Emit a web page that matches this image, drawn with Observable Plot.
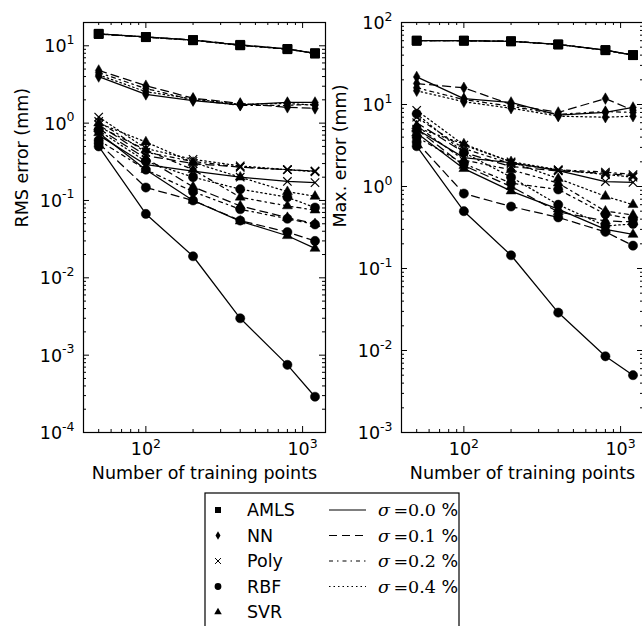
<!DOCTYPE html>
<html><head><meta charset="utf-8">
<script src="https://cdn.jsdelivr.net/npm/d3@7"></script>
<script src="https://cdn.jsdelivr.net/npm/@observablehq/plot@0.6"></script>
<style>
html,body{margin:0;padding:0;background:#fff;overflow:hidden;}
#root{position:relative;width:642px;height:626px;overflow:hidden;font-family:"DejaVu Sans";background:#fff;}
#root > svg{position:absolute;top:0;overflow:visible;}
</style></head><body><div id="root"></div>
<script>
// ---------- data ----------
const trainingPoints = [50, 100, 200, 400, 800, 1200];
const methods = ["AMLS", "NN", "Poly", "RBF", "SVR"];
const noiseLevels = ["0.0", "0.1", "0.2", "0.4"];

// RMS error (mm): one row per noise level (σ = 0.0, 0.1, 0.2, 0.4 %)
const rmsAMLS = [[14.3, 13.0, 11.8, 10.2, 9.1, 8.0], [14.2, 13.0, 11.9, 10.3, 9.1, 8.0], [14.3, 12.9, 11.8, 10.2, 9.0, 8.0], [14.2, 13.0, 11.8, 10.1, 9.1, 7.9]];
const rmsNN   = [[4.0, 2.35, 1.95, 1.72, 1.85, 1.85], [4.8, 3.05, 2.1, 1.8, 1.6, 1.55], [4.5, 2.8, 2.0, 1.7, 1.7, 1.75], [4.2, 2.55, 2.05, 1.75, 1.8, 1.7]];
const rmsPoly = [[0.7, 0.29, 0.24, 0.2, 0.176, 0.17], [0.95, 0.38, 0.3, 0.27, 0.25, 0.24], [1.05, 0.42, 0.32, 0.27, 0.25, 0.24], [1.2, 0.47, 0.34, 0.28, 0.25, 0.235]];
const rmsRBF  = [[0.5, 0.067, 0.019, 0.003, 0.00075, 0.00029], [0.55, 0.147, 0.1, 0.055, 0.039, 0.03], [0.6, 0.25, 0.13, 0.077, 0.058, 0.049], [0.8, 0.32, 0.2, 0.14, 0.11, 0.081]];
const rmsSVR  = [[0.75, 0.25, 0.1, 0.054, 0.035, 0.024], [0.85, 0.35, 0.15, 0.085, 0.06, 0.05], [0.9, 0.45, 0.25, 0.11, 0.085, 0.075], [1.0, 0.57, 0.31, 0.2, 0.13, 0.113]];

// Max. error (mm)
const maxAMLS = [[60, 60, 59, 54, 46, 40], [60, 60, 59, 54, 46, 40], [60, 60, 59, 54, 46, 40], [60, 60, 59, 54, 46, 40]];
const maxNN   = [[21.7, 11.8, 10.6, 7.4, 8.0, 9.2], [18, 16, 10, 8, 11.8, 8.5], [16, 11.5, 9.5, 7.6, 8.2, 8.0], [14.7, 10.8, 9.0, 7.2, 7.0, 7.2]];
const maxPoly = [[5.0, 2.25, 1.95, 1.56, 1.15, 1.12], [6.0, 2.6, 1.75, 1.55, 1.45, 1.35], [7.0, 2.9, 1.9, 1.6, 1.5, 1.4], [8.5, 3.2, 2.0, 1.6, 1.4, 1.3]];
const maxRBF  = [[3.1, 0.5, 0.145, 0.029, 0.0085, 0.005], [3.5, 0.82, 0.57, 0.42, 0.28, 0.19], [4.0, 1.9, 1.1, 0.92, 0.46, 0.4], [7.7, 2.6, 1.3, 0.6, 0.33, 0.35]];
const maxSVR  = [[4.5, 1.65, 0.88, 0.53, 0.3, 0.26], [5.0, 1.8, 1.0, 0.49, 0.38, 0.37], [5.5, 2.1, 1.6, 1.1, 0.5, 0.45], [5.2, 3.3, 2.0, 1.25, 0.76, 0.6]];

const rmsTicksY = [1e-4, 1e-3, 1e-2, 1e-1, 1e0, 1e1];
const maxTicksY = [1e-3, 1e-2, 1e-1, 1e0, 1e1, 1e2];
const ticksX = [1e2, 1e3];
const rmsLabel = "RMS error (mm)";
const maxLabel = "Max. error (mm)";
const xLabel = "Number of training points";

// ---------- helpers ----------
const symbols = {AMLS: "square", NN: "diamond", Poly: "times", RBF: "circle", SVR: "triangle"};
const radius  = {AMLS: 5, NN: 3.5, Poly: 3.9, RBF: 4.6, SVR: 3.7};
const dashes  = [null, "8,5", "4,4,1.5,4", "1.5,3"];
const legendSymbols = {AMLS: d3.symbolSquare, NN: d3.symbolDiamond, Poly: d3.symbolTimes, RBF: d3.symbolCircle, SVR: d3.symbolTriangle};

function tidy(seriesByMethod) {
  const out = [];
  methods.forEach((m, i) => seriesByMethod[i].forEach((vals, j) => vals.forEach((v, k) =>
    out.push({method: m, noise: noiseLevels[j], n: trainingPoints[k], value: v}))));
  return out;
}
const ctx = document.createElement("canvas").getContext("2d");
function tw(s, size) { ctx.font = `${size}px "DejaVu Sans"`; return ctx.measureText(s).width; }
const FS = 17.5, ES = 12.5;
const expText = t => String(Math.round(Math.log10(t)));

function minors(domain) {
  const out = [];
  for (let k = Math.floor(Math.log10(domain[0])); k <= Math.ceil(Math.log10(domain[1])); k++)
    for (let m = 2; m <= 9; m++) { const v = m * 10 ** k; if (v > domain[0] && v < domain[1]) out.push(v); }
  return out;
}

function panel({data, yDomain, yMajors, ylabel, marginLeft, marginRight, left}) {
  const W = 330, H = 492, mt = 22, mb = 60;
  const iw = W - marginLeft - marginRight, ih = H - mt - mb;
  const xDomain = [40, 1400];
  const marks = [];
  // lines
  noiseLevels.forEach((nl, j) => marks.push(Plot.line(data.filter(d => d.noise === nl),
    {x: "n", y: "value", z: "method", stroke: "black", strokeWidth: 1.25, strokeDasharray: dashes[j]})));
  // markers
  methods.forEach(m => {
    const sub = data.filter(d => d.method === m);
    if (m === "Poly") marks.push(Plot.dot(sub, {x: "n", y: "value", symbol: symbols[m], r: radius[m], stroke: "black", strokeWidth: 1.2, fill: "none"}));
    else marks.push(Plot.dot(sub, {x: "n", y: "value", symbol: symbols[m], r: radius[m], fill: "black", stroke: "black", strokeWidth: 0.5}));
  });
  // frame and inward ticks
  const yMin = minors(yDomain), xMin = minors(xDomain);
  marks.push(
    Plot.tickY(yMajors, {y: d => d, insetRight: iw - 6, stroke: "black"}),
    Plot.tickY(yMajors, {y: d => d, insetLeft: iw - 6, stroke: "black"}),
    Plot.tickY(yMin, {y: d => d, insetRight: iw - 3, stroke: "black"}),
    Plot.tickY(yMin, {y: d => d, insetLeft: iw - 3, stroke: "black"}),
    Plot.tickX(ticksX, {x: d => d, insetTop: ih - 6, stroke: "black"}),
    Plot.tickX(ticksX, {x: d => d, insetBottom: ih - 6, stroke: "black"}),
    Plot.tickX(xMin, {x: d => d, insetTop: ih - 3, stroke: "black"}),
    Plot.tickX(xMin, {x: d => d, insetBottom: ih - 3, stroke: "black"}),
    Plot.frame({stroke: "black", strokeWidth: 1.2})
  );
  // y tick labels 10^k
  yMajors.forEach(t => {
    const e = expText(t), ew = tw(e, ES);
    marks.push(Plot.text([t], {y: d => d, frameAnchor: "left", lineAnchor: "middle", text: () => "10", textAnchor: "end", dx: -9 - ew, dy: 1, fontSize: FS}));
    marks.push(Plot.text([t], {y: d => d, frameAnchor: "left", lineAnchor: "middle", text: () => e, textAnchor: "end", dx: -9, dy: -6, fontSize: ES}));
  });
  // x tick labels
  ticksX.forEach(t => {
    const e = expText(t), bw = tw("10", FS), ew = tw(e, ES), Wt = bw + ew;
    marks.push(Plot.text([t], {x: d => d, frameAnchor: "bottom", lineAnchor: "middle", text: () => "10", textAnchor: "start", dx: -Wt / 2, dy: 17, fontSize: FS}));
    marks.push(Plot.text([t], {x: d => d, frameAnchor: "bottom", lineAnchor: "middle", text: () => e, textAnchor: "start", dx: -Wt / 2 + bw, dy: 11, fontSize: ES}));
  });
  // axis titles
  marks.push(Plot.text([ylabel], {text: d => d, frameAnchor: "left", lineAnchor: "middle", rotate: -90, dx: -61, fontSize: FS}));
  marks.push(Plot.text([xLabel], {text: d => d, frameAnchor: "bottom", lineAnchor: "middle", dy: 41, fontSize: FS}));

  const svg = Plot.plot({
    width: W, height: H, marginLeft, marginRight, marginTop: mt, marginBottom: mb,
    x: {type: "log", domain: xDomain, axis: null},
    y: {type: "log", domain: yDomain, axis: null},
    style: {fontFamily: "DejaVu Sans", fontSize: FS + "px", background: "transparent", color: "black", overflow: "visible"},
    marks
  });
  svg.style.left = left + "px";
  return svg;
}

const root = document.getElementById("root");
root.appendChild(panel({data: tidy([rmsAMLS, rmsNN, rmsPoly, rmsRBF, rmsSVR]), yDomain: [1e-4, 20], yMajors: rmsTicksY, ylabel: rmsLabel, marginLeft: 83, marginRight: 5, left: 0}));
root.appendChild(panel({data: tidy([maxAMLS, maxNN, maxPoly, maxRBF, maxSVR]), yDomain: [1e-3, 1e2], yMajors: maxTicksY, ylabel: maxLabel, marginLeft: 71, marginRight: 17, left: 330}));

// ---------- legend ----------
const lg = d3.create("svg").attr("width", 642).attr("height", 626).style("left", "0px").style("pointer-events", "none");
lg.append("rect").attr("x", 205).attr("y", 493).attr("width", 254).attr("height", 150).attr("fill", "white").attr("stroke", "black").attr("stroke-width", 1.2);
const rowY = i => 510 + i * 25.5;
const legendR = {AMLS: 3.4, NN: 2.6, Poly: 2.8, RBF: 3.4, SVR: 2.8};
methods.forEach((m, i) => {
  const r = legendR[m];
  const p = lg.append("path").attr("transform", `translate(218,${rowY(i)})`).attr("d", d3.symbol(legendSymbols[m], Math.PI * r * r)());
  if (m === "Poly") p.attr("fill", "none").attr("stroke", "black").attr("stroke-width", 1);
  else p.attr("fill", "black");
  lg.append("text").attr("x", 247).attr("y", rowY(i)).attr("dy", "0.36em").attr("font-size", FS).attr("font-family", "DejaVu Sans").text(m);
});
noiseLevels.forEach((nl, j) => {
  lg.append("line").attr("x1", 329).attr("x2", 366).attr("y1", rowY(j)).attr("y2", rowY(j)).attr("stroke", "black").attr("stroke-width", 1.2).attr("stroke-dasharray", dashes[j]);
  const t = lg.append("text").attr("x", 378).attr("y", rowY(j)).attr("dy", "0.36em").attr("font-size", FS);
  t.append("tspan").attr("font-family", "DejaVu Serif").attr("font-style", "italic").text("σ");
  t.append("tspan").attr("font-family", "DejaVu Serif").text("\u2009=" + nl + " ");
  t.append("tspan").attr("font-family", "DejaVu Sans").text("%");
});
root.appendChild(lg.node());
</script>
</body></html>
